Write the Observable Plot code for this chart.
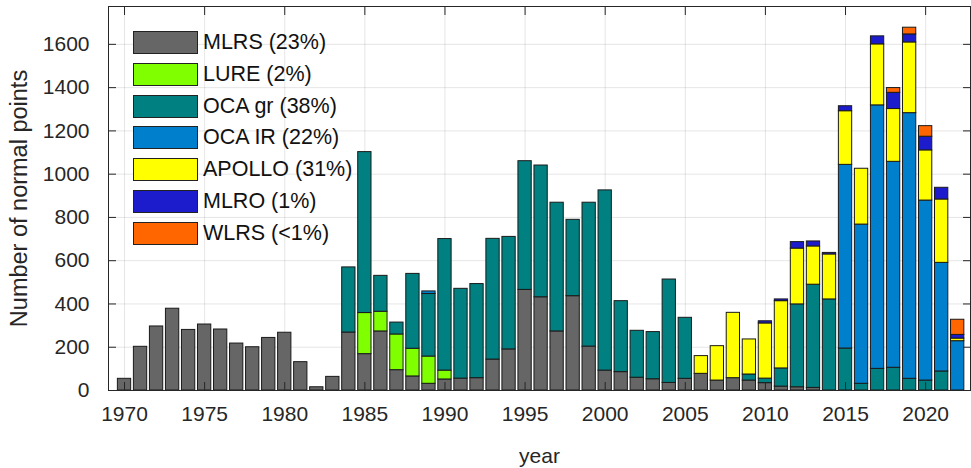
<!DOCTYPE html>
<html>
<head>
<meta charset="utf-8">
<script src="https://cdn.jsdelivr.net/npm/d3@7"></script>
<script src="https://cdn.jsdelivr.net/npm/@observablehq/plot@0.6"></script>
<style>
  body { margin: 0; background: #fff; }
  #wrap { position: relative; width: 971px; height: 468px; font-family: "Liberation Sans", Arial, sans-serif; }
  #legend { position: absolute; left: 133px; top: 26.6px; }
  .row { display: flex; align-items: center; height: 31.8px; }
  .sw { width: 63px; height: 21px; border: 1px solid #222; margin-right: 5px; }
  .lab { font-size: 21.5px; color: #111; white-space: nowrap; }
</style>
</head>
<body>
<div id="wrap"></div>
<script>
const years = [1970,1971,1972,1973,1974,1975,1976,1977,1978,1979,
               1980,1981,1982,1983,1984,1985,1986,1987,1988,1989,
               1990,1991,1992,1993,1994,1995,1996,1997,1998,1999,
               2000,2001,2002,2003,2004,2005,2006,2007,2008,2009,
               2010,2011,2012,2013,2014,2015,2016,2017,2018,2019,
               2020,2021,2022];

const stations = ["MLRS", "LURE", "OCA gr", "OCA IR", "APOLLO", "MLRO", "WLRS"];
const shares = ["23%", "2%", "38%", "22%", "31%", "1%", "<1%"];
const colors = ["#666666", "#80ff00", "#008080", "#0080cc", "#ffff00", "#1c1ccc", "#ff6600"];

const mlrs   = [54,202,296,378,280,305,282,217,200,243,
                267,131,15,63,268,168,273,94,65,31,
                51,55,57,143,190,465,431,273,436,203,
                92,85,59,52,35,54,77,46,57,46,
                34,18,15,12,0,0,0,0,0,0,
                0,0,0];
const lure   = [0,0,0,0,0,0,0,0,0,0,
                0,0,0,0,0,190,91,165,128,126,
                41,0,0,0,0,0,0,0,0,0,
                0,0,0,0,0,0,0,0,0,0,
                0,0,0,0,0,0,0,0,0,0,
                0,0,0];
const ocaGr  = [0,0,0,0,0,0,0,0,0,0,
                0,0,0,0,301,744,166,55,346,289,
                608,415,435,558,520,595,609,595,353,665,
                833,328,217,218,478,282,0,0,0,28,
                21,84,383,477,421,194,31,100,105,54,
                46,88,0];
const ocaIr  = [0,0,0,0,0,0,0,0,0,0,
                0,0,0,0,0,0,0,0,0,12,
                0,0,0,0,0,0,0,0,0,0,
                0,0,0,0,0,0,0,0,0,0,
                0,0,0,0,0,849,736,1218,952,1228,
                832,502,228];
const apollo = [0,0,0,0,0,0,0,0,0,0,
                0,0,0,0,0,0,0,0,0,0,
                0,0,0,0,0,0,0,0,0,0,
                0,0,0,0,0,0,82,159,302,162,
                255,311,258,177,208,248,258,282,244,327,
                232,293,12];
const mlro   = [0,0,0,0,0,0,0,0,0,0,
                0,0,0,0,0,0,0,0,0,0,
                0,0,0,0,0,0,0,0,0,0,
                0,0,0,0,0,0,0,0,0,0,
                10,8,30,23,7,23,0,37,75,37,
                63,54,17];
const wlrs   = [0,0,0,0,0,0,0,0,0,0,
                0,0,0,0,0,0,0,0,0,0,
                0,0,0,0,0,0,0,0,0,0,
                0,0,0,0,0,0,0,0,0,0,
                0,0,0,0,0,0,0,0,22,31,
                49,0,70];

const xTicks = [1970, 1975, 1980, 1985, 1990, 1995, 2000, 2005, 2010, 2015, 2020];
const yTicks = [0, 200, 400, 600, 800, 1000, 1200, 1400, 1600];

const series = [mlrs, lure, ocaGr, ocaIr, apollo, mlro, wlrs];
const rows = [];
stations.forEach((s, i) => {
  years.forEach((yr, j) => {
    const v = series[i][j];
    if (v > 0) rows.push({year: yr, station: s, value: v});
  });
});

const halfBar = 0.415;
const textColor = "#262626";

const chart = Plot.plot({
  width: 971,
  height: 468,
  marginLeft: 108,
  marginRight: 1,
  marginTop: 6,
  marginBottom: 78,
  style: {fontFamily: "'Liberation Sans', Arial, sans-serif", fontSize: "21px", color: textColor, background: "transparent"},
  x: {domain: [1969, 2022.8]},
  y: {domain: [0, 1775]},
  color: {domain: stations, range: colors},
  marks: [
    Plot.gridX(xTicks, {stroke: "#000", strokeOpacity: 0.1}),
    Plot.gridY(yTicks, {stroke: "#000", strokeOpacity: 0.1}),
    Plot.rectY(rows, Plot.stackY({
      x1: d => d.year - halfBar,
      x2: d => d.year + halfBar,
      y: "value",
      fill: "station",
      order: stations,
      stroke: "#1a1a1a",
      strokeWidth: 1
    })),
    Plot.frame({stroke: textColor}),
    Plot.axisX(xTicks, {tickSize: 0, tickPadding: 16, tickFormat: d => String(d), fontSize: 21,
      label: "year", labelAnchor: "center", labelOffset: 72, labelArrow: "none"}),
    Plot.axisX(xTicks, {tickSize: -8, tickFormat: () => "", label: null, stroke: textColor}),
    Plot.axisX(xTicks, {anchor: "top", tickSize: -8, tickFormat: () => "", label: null, stroke: textColor}),
    Plot.axisY(yTicks, {tickSize: 0, tickPadding: 19, fontSize: 21, tickFormat: d => String(d), label: null}),
    Plot.axisY(yTicks, {tickSize: 0, tickFormat: () => "", fontSize: 23.5,
      label: "Number of normal points", labelAnchor: "center", labelOffset: 98, labelArrow: "none"}),
    Plot.axisY(yTicks, {tickSize: -8, tickFormat: () => "", label: null, stroke: textColor}),
    Plot.axisY(yTicks, {anchor: "right", tickSize: -8, tickFormat: () => "", label: null, stroke: textColor})
  ]
});

const wrap = document.getElementById("wrap");
wrap.appendChild(chart);

const legend = document.createElement("div");
legend.id = "legend";
stations.forEach((s, i) => {
  const row = document.createElement("div");
  row.className = "row";
  const sw = document.createElement("div");
  sw.className = "sw";
  sw.style.background = colors[i];
  const lab = document.createElement("span");
  lab.className = "lab";
  lab.textContent = `${s} (${shares[i]})`;
  row.appendChild(sw);
  row.appendChild(lab);
  legend.appendChild(row);
});
wrap.appendChild(legend);
</script>
</body>
</html>
